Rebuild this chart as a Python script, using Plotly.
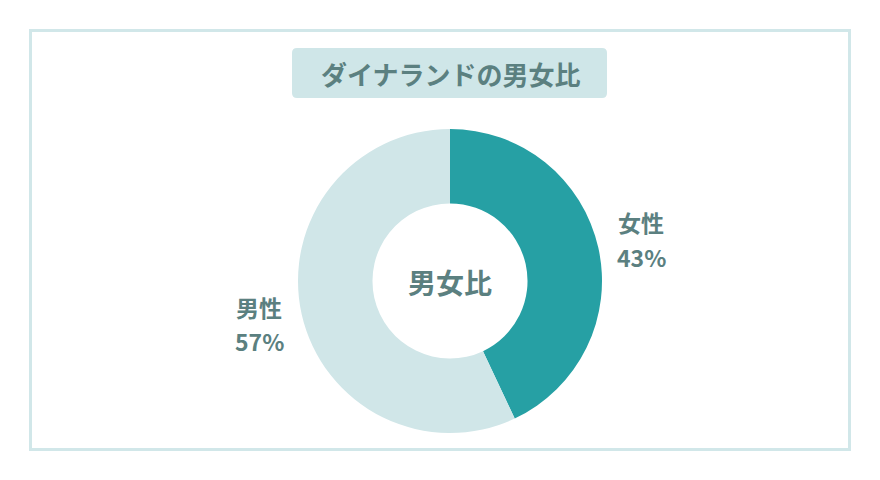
import plotly.graph_objects as go

categories = ["女性", "男性"]
values = [43, 57]
colors = ["#26a0a4", "#d0e6e8"]
title_text = "ダイナランドの男女比"
center_text = "男女比"

W, H = 880, 480
FONT = "Noto Sans CJK JP"
TXT = "#5b8080"

def px(x):
    return x / W

def py(y):
    return 1 - y / H

cx, cy, r = 450, 281, 152

fig = go.Figure(go.Pie(
    labels=categories, values=values, sort=False, direction="clockwise", rotation=0,
    hole=0.51, marker=dict(colors=colors, line=dict(width=0)),
    textinfo="none", hoverinfo="label+percent", showlegend=False,
    domain=dict(x=[px(cx - r), px(cx + r)], y=[py(cy + r), py(cy - r)]),
))

# rounded title box path
x0, y0, x1, y1, rr = 292, 48, 607, 98, 5
path = (f"M {px(x0+rr)} {py(y0)} L {px(x1-rr)} {py(y0)} Q {px(x1)} {py(y0)} {px(x1)} {py(y0+rr)} "
        f"L {px(x1)} {py(y1-rr)} Q {px(x1)} {py(y1)} {px(x1-rr)} {py(y1)} "
        f"L {px(x0+rr)} {py(y1)} Q {px(x0)} {py(y1)} {px(x0)} {py(y1-rr)} "
        f"L {px(x0)} {py(y0+rr)} Q {px(x0)} {py(y0)} {px(x0+rr)} {py(y0)} Z")

shapes = [
    dict(type="rect", xref="paper", yref="paper", x0=px(30.5), x1=px(849.5), y0=py(449.5), y1=py(30.5),
         line=dict(color="#d1e7e9", width=3), fillcolor="rgba(0,0,0,0)", layer="below"),
    dict(type="path", xref="paper", yref="paper", path=path, fillcolor="#cfe6e8", line=dict(width=0), layer="below"),
]

def ann(x, y, text, size):
    return dict(x=px(x), y=py(y), xref="paper", yref="paper", text=text, showarrow=False,
                xanchor="center", yanchor="middle",
                font=dict(family=FONT, size=size, color=TXT, weight=700))

annotations = [ann(450, 73, title_text, 26), ann(cx, 282, center_text, 28)]
label_pos = [(641, 222, 257), (259, 307, 341)]
total = sum(values)
for (lx, ly1, ly2), c, v in zip(label_pos, categories, values):
    annotations.append(ann(lx, ly1, c, 23))
    annotations.append(ann(lx, ly2, f"{round(v / total * 100)}%", 23))

fig.update_layout(
    width=W, height=H, margin=dict(l=0, r=0, t=0, b=0),
    paper_bgcolor="white", plot_bgcolor="white",
    shapes=shapes, annotations=annotations,
)

fig.write_html("out.html", config={"displayModeBar": False},
               post_script="document.body.style.margin='0';document.body.style.overflow='hidden';")
